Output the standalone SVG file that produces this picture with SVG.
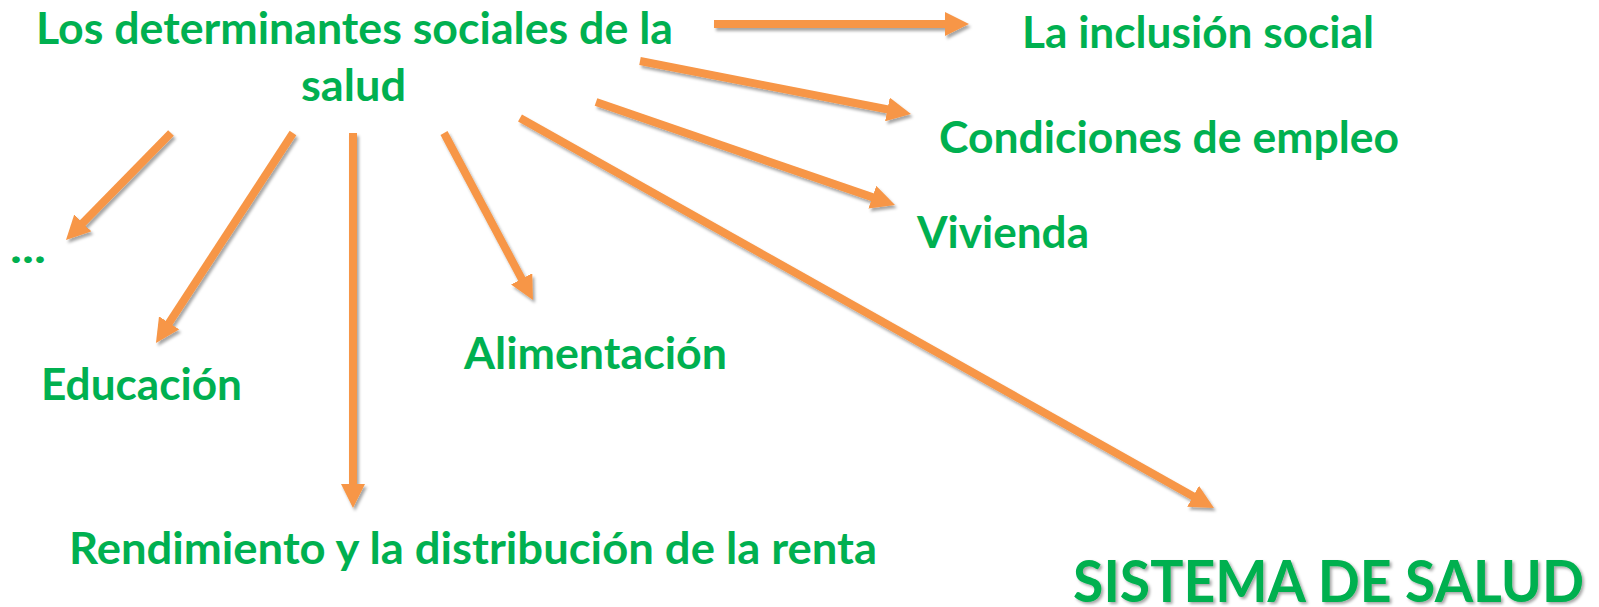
<svg xmlns="http://www.w3.org/2000/svg" width="1599" height="607" viewBox="0 0 1599 607">
<defs>
<style>
.lbl{font-family:Lato,"Open Sans","Liberation Sans",sans-serif;font-weight:700;fill:#00B050;font-size:44px}
.big{font-size:58px}
.arr{stroke:#F79646;stroke-width:8;fill:none;marker-end:url(#ah)}
</style>
<marker id="ah" markerUnits="strokeWidth" markerWidth="3" markerHeight="3" viewBox="0 0 3 3" refX="0.75" refY="1.5" orient="auto">
<path d="M0,0 L3,1.5 L0,3 z" fill="#F79646"/>
</marker>
<filter id="sh" x="-10%" y="-10%" width="120%" height="120%">
<feDropShadow dx="2" dy="3" stdDeviation="1.5" flood-color="#000" flood-opacity="0.35"/>
</filter>
<filter id="tsh" x="-5%" y="-10%" width="110%" height="130%">
<feDropShadow dx="2" dy="2" stdDeviation="1.5" flood-color="#000" flood-opacity="0.35"/>
</filter>
</defs>
<rect width="1599" height="607" fill="#fff"/>
<g id="connectors" filter="url(#sh)">
<line class="arr" x1="714" y1="24" x2="951" y2="24"/>
<line class="arr" x1="640" y1="61" x2="893.3" y2="110.5"/>
<line class="arr" x1="596" y1="102" x2="878" y2="199.1"/>
<line class="arr" x1="520" y1="118" x2="1198.3" y2="499.2"/>
<line class="arr" x1="444" y1="133" x2="524.5" y2="284.1"/>
<line class="arr" x1="353" y1="133" x2="353" y2="490"/>
<line class="arr" x1="293" y1="133" x2="165.8" y2="327.9"/>
<line class="arr" x1="171" y1="133" x2="78.6" y2="227.2"/>
</g>
<g id="n-determinantes">
<text class="lbl" x="36" y="44" textLength="637" lengthAdjust="spacingAndGlyphs">Los determinantes sociales de la</text>
<text class="lbl" x="301" y="101" textLength="105" lengthAdjust="spacingAndGlyphs">salud</text>
</g>
<g id="n-inclusion"><text class="lbl" x="1022" y="48" textLength="352" lengthAdjust="spacingAndGlyphs">La inclusión social</text></g>
<g id="n-empleo"><text class="lbl" x="939" y="153" textLength="460" lengthAdjust="spacingAndGlyphs">Condiciones de empleo</text></g>
<g id="n-vivienda"><text class="lbl" x="917" y="248" textLength="172" lengthAdjust="spacingAndGlyphs">Vivienda</text></g>
<g id="n-etc"><text class="lbl" x="10" y="263" textLength="36" lengthAdjust="spacingAndGlyphs">...</text></g>
<g id="n-educacion"><text class="lbl" x="41" y="400" textLength="201" lengthAdjust="spacingAndGlyphs">Educación</text></g>
<g id="n-alimentacion"><text class="lbl" x="464" y="369" textLength="263" lengthAdjust="spacingAndGlyphs">Alimentación</text></g>
<g id="n-renta"><text class="lbl" x="69" y="564" textLength="808" lengthAdjust="spacingAndGlyphs">Rendimiento y la distribución de la renta</text></g>
<g id="n-sistema"><text class="lbl big" x="1073" y="602" textLength="511" lengthAdjust="spacingAndGlyphs" filter="url(#tsh)">SISTEMA DE SALUD</text></g>
</svg>
